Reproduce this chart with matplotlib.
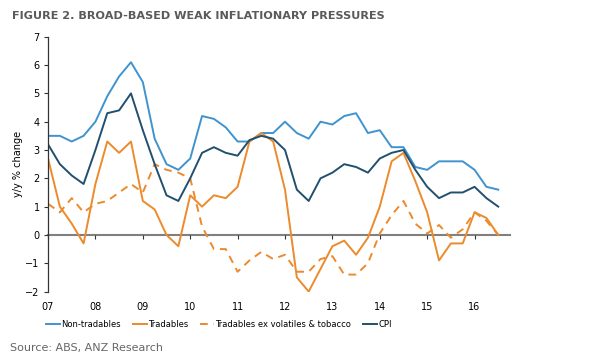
import numpy as np
import matplotlib
matplotlib.use("Agg")
import matplotlib.pyplot as plt

# Quarterly y/y % change, first point Dec-06, last Jun-16
year_labels = ['07', '08', '09', '10', '11', '12', '13', '14', '15', '16']

non_tradables = [3.5, 3.5, 3.3, 3.5, 4.0, 4.9, 5.6, 6.1, 5.4, 3.4,
                 2.5, 2.3, 2.7, 4.2, 4.1, 3.8, 3.3, 3.3, 3.6, 3.6,
                 4.0, 3.6, 3.4, 4.0, 3.9, 4.2, 4.3, 3.6, 3.7, 3.1,
                 3.1, 2.4, 2.3, 2.6, 2.6, 2.6, 2.3, 1.7, 1.6]
tradables = [2.7, 1.0, 0.4, -0.3, 1.8, 3.3, 2.9, 3.3, 1.2, 0.9,
             0.0, -0.4, 1.4, 1.0, 1.4, 1.3, 1.7, 3.3, 3.6, 3.3,
             1.6, -1.5, -2.0, -1.2, -0.4, -0.2, -0.7, -0.1, 1.0, 2.6,
             2.9, 1.9, 0.8, -0.9, -0.3, -0.3, 0.8, 0.6, 0.0]
tradables_ex = [1.1, 0.8, 1.3, 0.8, 1.1, 1.2, 1.5, 1.8, 1.5, 2.5,
                2.3, 2.2, 2.0, 0.3, -0.5, -0.5, -1.3, -0.9, -0.6, -0.85,
                -0.7, -1.3, -1.3, -0.85, -0.75, -1.4, -1.4, -1.0, 0.05, 0.7,
                1.2, 0.4, 0.05, 0.35, -0.1, 0.2, 0.8, 0.5, 0.0]
cpi = [3.2, 2.5, 2.1, 1.8, 3.0, 4.3, 4.4, 5.0, 3.7, 2.5,
       1.4, 1.2, 2.0, 2.9, 3.1, 2.9, 2.8, 3.35, 3.5, 3.4,
       3.0, 1.6, 1.2, 2.0, 2.2, 2.5, 2.4, 2.2, 2.7, 2.9,
       3.0, 2.3, 1.7, 1.3, 1.5, 1.5, 1.7, 1.3, 1.0]

light_blue = '#3f93cf'
orange = '#ec8a2c'
dark_blue = '#21506f'

plt.rcParams['font.family'] = 'DejaVu Sans'

fig = plt.figure(figsize=(6.08, 3.64), dpi=100)
ax = fig.add_axes([0.079, 0.199, 0.760, 0.700])

x = np.arange(len(cpi))
ax.plot(x, non_tradables, color=light_blue, lw=1.4, label='Non-tradables')
ax.plot(x, tradables, color=orange, lw=1.4, label='Tradables')
ax.plot(x, tradables_ex, color=orange, lw=1.4, ls=(0, (4, 3)),
        label='Tradables ex volatiles & tobacco')
ax.plot(x, cpi, color=dark_blue, lw=1.4, label='CPI')

ax.set_xlim(0, 39)
ax.set_ylim(-2, 7)
ax.set_yticks(range(-2, 8))
ax.set_xticks(range(0, 40, 4))
ax.set_xticklabels(year_labels)

for s in ['top', 'right']:
    ax.spines[s].set_visible(False)
ax.spines['bottom'].set_position(('data', 0))
ax.spines['bottom'].set_color('#808080')
ax.spines['bottom'].set_linewidth(1.5)
ax.spines['bottom'].set_zorder(0)
ax.spines['left'].set_color('#333333')
ax.spines['left'].set_linewidth(0.9)

ax.tick_params(axis='y', direction='out', length=3, width=0.8,
               colors='#333333', labelsize=7, labelcolor='black', pad=3)
ax.tick_params(axis='x', direction='out', length=3, width=0.8,
               colors='#333333', labelsize=7, labelcolor='black', pad=45)

ax.set_ylabel('y/y % change', fontsize=7, labelpad=2)

ax.legend(loc='upper center', bbox_to_anchor=(0.37, -0.10), ncol=4,
          frameon=False, fontsize=6, handlelength=1.7, handletextpad=0.15,
          columnspacing=1.4, borderaxespad=0)

fig.text(0.02, 0.955, 'FIGURE 2. BROAD-BASED WEAK INFLATIONARY PRESSURES',
         fontsize=8.15, fontweight='bold', color='#5a5a5a', va='center')
fig.text(0.016, 0.043, 'Source: ABS, ANZ Research', fontsize=8,
         color='#666666', va='center')

fig.savefig('out.png', dpi=100)
